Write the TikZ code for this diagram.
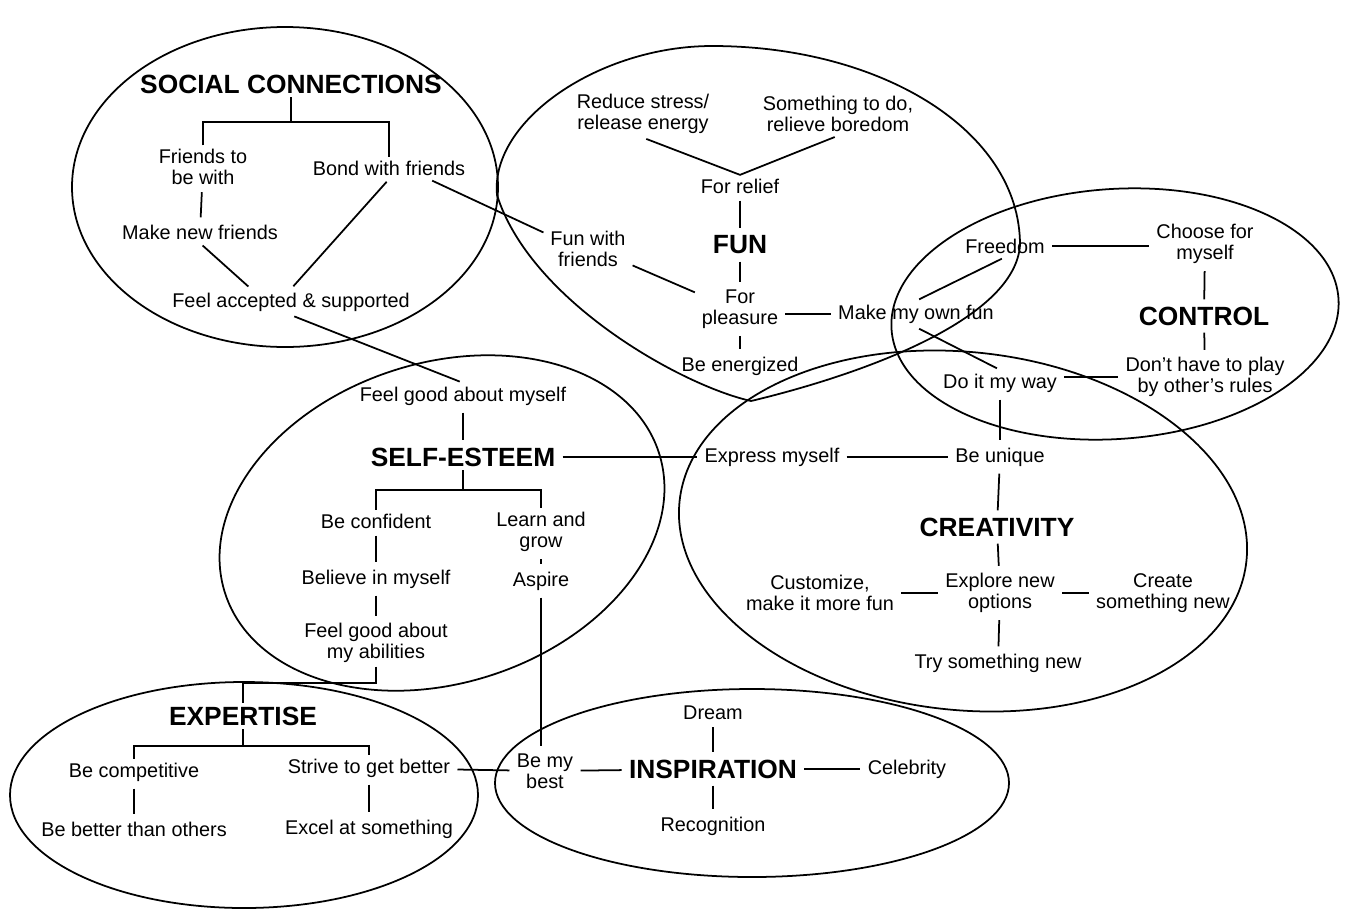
\documentclass[tikz,border=0pt]{standalone}
\usepackage{fontspec}
\setmainfont{Liberation Sans}
\usetikzlibrary{positioning,calc}

\begin{document}
\begin{tikzpicture}[
      x=0.02cm, y=-0.02cm,
      item/.style = {font=\fontsize{11.3}{12}\selectfont, align=center, inner sep=2pt},
      topic/.style = {font=\fontsize{15}{17}\selectfont\bfseries, inner sep=2pt},
      blob/.style = {line width=1pt},
      tree/.style = {line width=1pt},
      link/.style = {tree, shorten <=2pt, shorten >=2pt}
      ]
      \useasboundingbox (0,0) rectangle (1348,910);

      \draw[blob] (285,187) ellipse [x radius=213, y radius=160];
      \draw[blob] (712,46) .. controls (880,46) and (1020,130) .. (1020,245)
            .. controls (1015,320) and (860,375) .. (751,401)
            .. controls (680,385) and (530,300) .. (497,195)
            .. controls (490,120) and (600,46) .. (712,46) -- cycle;
      \draw[blob, rotate around={4:(1115,314)}] (1115,314) ellipse [x radius=224, y radius=125];
      \draw[blob, rotate around={18:(442,523)}] (442,523) ellipse [x radius=228, y radius=160];
      \draw[blob, rotate around={-6:(963,531)}] (963,531) ellipse [x radius=285, y radius=179];
      \draw[blob] (244,795) ellipse [x radius=234, y radius=113];
      \draw[blob] (752,783) ellipse [x radius=257, y radius=94];

      % social connections
      \node[topic] (soc) at (291,84) {SOCIAL CONNECTIONS};
      \node[item] (friends) at (203,167) {Friends to\\be with};
      \node[item] (bond) at (389,168) {Bond with friends};
      \node[item] (newfr) at (200,232) {Make new friends};
      \node[item] (accept) at (291,302) {Feel accepted \& supported};
      \coordinate (socfork) at (291,122);

      % fun
      \node[topic] (fun) at (740,245) {FUN};
      \node[item] (stress) at (643,114) {Reduce stress/\\release energy};
      \node[item] (bored) at (838,114) {Something to do,\\relieve boredom};
      \node[item] (relief) at (740,186) {For relief};
      \node[item] (pleasure) at (740,309) {For\\pleasure};
      \node[item] (energ) at (740,366) {Be energized};
      \node[item] (funfr) at (588,249) {Fun with\\friends};
      \node[item] (ownfun) at (916,314) {Make my own fun};

      % control
      \node[topic] (ctrl) at (1204,316) {CONTROL};
      \node[item] (freedom) at (1005,246) {Freedom};
      \node[item] (choose) at (1205,244) {Choose for\\myself};
      \node[item] (rules) at (1205,377) {Don’t have to play\\by other’s rules};
      \node[item] (myway) at (1000,383) {Do it my way};

      % creativity
      \node[topic] (creat) at (997,527) {CREATIVITY};
      \node[item] (unique) at (1000,457) {Be unique};
      \node[item] (express) at (772,457) {Express myself};
      \node[item] (explore) at (1000,593) {Explore new\\options};
      \node[item] (custom) at (820,593) {Customize,\\make it more fun};
      \node[item] (create) at (1163,593) {Create\\something new};
      \node[item] (try) at (998,663) {Try something new};

      % self-esteem
      \node[topic] (self) at (463,457) {SELF-ESTEEM};
      \node[item] (goodme) at (463,396) {Feel good about myself};
      \node[item] (conf) at (376,521) {Be confident};
      \node[item] (learn) at (541,532) {Learn and\\grow};
      \node[item] (believe) at (376,579) {Believe in myself};
      \node[item] (aspire) at (541,581) {Aspire};
      \node[item] (abil) at (376,643) {Feel good about\\my abilities};
      \coordinate (selffork) at (463,490);

      % expertise
      \node[topic] (expert) at (243,716) {EXPERTISE};
      \node[item] (compet) at (134,772) {Be competitive};
      \node[item] (strive) at (369,768) {Strive to get better};
      \node[item] (better) at (134,829) {Be better than others};
      \node[item] (excel) at (369,829) {Excel at something};
      \coordinate (expjoin) at (243,683);
      \coordinate (expfork) at (243,746);

      % inspiration
      \node[topic] (insp) at (713,769) {INSPIRATION};
      \node[item] (best) at (545,771) {Be my\\best};
      \node[item] (dream) at (713,713) {Dream};
      \node[item] (recog) at (713,826) {Recognition};
      \node[item] (celeb) at (907,769) {Celebrity};

      \draw[tree] (soc.south) -- (socfork);
      \draw[tree] (friends.north) |- (socfork) -| (bond.north);
      \path[draw,link] (friends) edge (newfr)
                       (newfr.south) edge ($(accept.north)+(-40,0)$)
                       (bond.south) edge (accept.north)
                       ($(bond.south)+(40,0)$) edge (funfr.160)
                       (accept.south) edge (goodme.north);

      \draw[link] (stress.south) -- (relief.north) -- (bored.south);
      \path[draw,link] (relief) edge (fun)
                       (fun) edge (pleasure)
                       (pleasure) edge (energ)
                       (funfr.-20) edge (pleasure.160)
                       (pleasure.east |- ownfun.west) edge (ownfun.west)
                       (ownfun.north) edge (freedom.south)
                       (ownfun.south) edge (myway.north);

      \path[draw,link] (freedom.east) edge (freedom.east -| choose.west)
                       (choose) edge (ctrl)
                       (ctrl) edge (rules)
                       (myway.east |- rules.west) edge (rules.west)
                       (myway) edge (unique);

      \path[draw,link] (self) edge (express)
                       (express) edge (unique)
                       (unique) edge (creat)
                       (creat) edge (explore)
                       (custom) edge (explore)
                       (explore) edge (create)
                       (explore) edge (try);

      \draw[tree] (self.south) -- (selffork);
      \draw[tree] (conf.north) |- (selffork) -| (learn.north);
      \path[draw,link] (goodme) edge (self)
                       (conf) edge (believe)
                       (believe) edge (abil)
                       (learn) edge (aspire)
                       (aspire.south) edge (aspire.south |- best.north);

      \draw[tree] (abil.south) |- (expjoin) -- (expert.north);
      \draw[tree] (expert.south) -- (expfork);
      \draw[tree] (compet.north) |- (expfork) -| (strive.north);
      \path[draw,link] (compet) edge (better)
                       (strive) edge (excel)
                       (strive) edge (best);

      \path[draw,link] (best) edge (insp)
                       (insp) edge (celeb)
                       (dream) edge (insp)
                       (insp) edge (recog);
\end{tikzpicture}
\end{document}
